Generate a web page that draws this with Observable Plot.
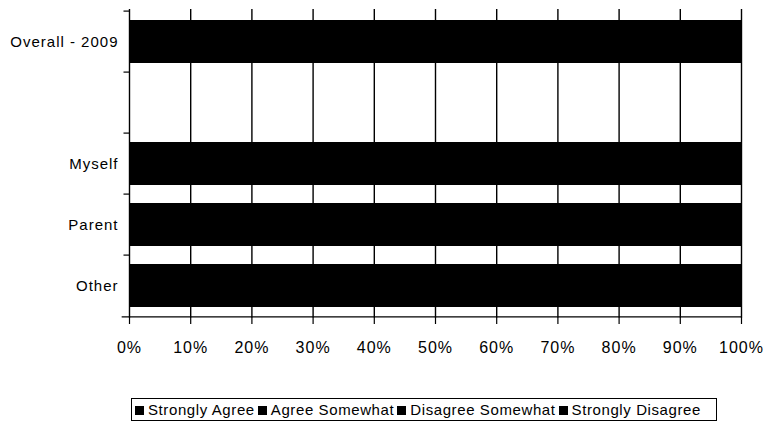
<!DOCTYPE html>
<html>
<head>
<meta charset="utf-8">
<script src="https://cdn.jsdelivr.net/npm/d3@7"></script>
<script src="https://cdn.jsdelivr.net/npm/@observablehq/plot@0.6"></script>
<style>
  html, body { margin: 0; padding: 0; background: #fff; }
  #wrap { position: relative; width: 769px; height: 428px; font-family: "Liberation Sans", Arial, sans-serif; }
  #chart svg, #chart svg text { font-family: "Liberation Sans", Arial, sans-serif !important; }
  #legend {
    position: absolute; left: 131px; top: 398px; width: 581px; height: 21px;
    border: 1px solid #000; box-sizing: content-box;
    font-size: 15px; letter-spacing: 0.6px; line-height: 21px; color: #000;
    white-space: nowrap; padding-left: 3px;
  }
  #legend .sw { display: inline-block; width: 9px; height: 9px; margin-right: 4px; vertical-align: 0px; }
  #legend .item { margin-right: 3px; }
</style>
</head>
<body>
<div id="wrap">
  <div id="chart"></div>
  <div id="legend"></div>
</div>
<script>
// Survey groups (the blank entry is a spacer row between the overall bar and the breakdown)
const groups = ["Overall - 2009", " ", "Myself", "Parent", "Other"];
const responses = ["Strongly Agree", "Agree Somewhat", "Disagree Somewhat", "Strongly Disagree"];
const responseColors = ["#000000", "#000000", "#000000", "#000000"];

// Share of respondents (%) per response, one array per group
const overall2009 = [52, 31, 11, 6];
const myself = [58, 28, 9, 5];
const parent = [49, 33, 12, 6];
const other = [45, 35, 13, 7];

const xTicks = [0, 0.1, 0.2, 0.3, 0.4, 0.5, 0.6, 0.7, 0.8, 0.9, 1];

const rows = [
  ["Overall - 2009", overall2009],
  ["Myself", myself],
  ["Parent", parent],
  ["Other", other]
].flatMap(([group, vals]) =>
  responses.map((response, i) => ({group, response, value: vals[i] / 100}))
);

const W = 769, H = 372;
const mTop = 9, mBottom = 54, mLeft = 129, mRight = 28;
const step = (H - mTop - mBottom) / groups.length;

const chart = Plot.plot({
  width: W,
  height: H,
  marginTop: mTop,
  marginBottom: mBottom,
  marginLeft: mLeft,
  marginRight: mRight,
  style: {color: "#000", background: "#fff"},
  x: {domain: [0, 1], axis: null},
  y: {domain: groups, padding: 0, axis: null},
  color: {domain: responses, range: responseColors},
  marks: [
    // vertical gridlines every 10%
    Plot.ruleX(xTicks, {stroke: "#000", strokeWidth: 1.4}),
    // stacked 100% bars
    Plot.barX(rows, Plot.stackX({
      x: "value", y: "group", fill: "response", stroke: "response", strokeWidth: 1,
      shapeRendering: "crispEdges", order: responses, insetTop: 9.5, insetBottom: 9.5
    })),
    // category ticks at band boundaries
    Plot.ruleY(groups, {y: d => d, dy: -step / 2, x1: -0.009, x2: 0, stroke: "#000", strokeWidth: 1.2, clip: false}),
    // bottom axis line
    Plot.ruleY(["Other"], {y: d => d, dy: step / 2, x1: -0.012, x2: 1, stroke: "#000", strokeWidth: 1.4}),
    Plot.axisY({
      tickSize: 0, tickPadding: 11, fontSize: 15, label: null,
      tickFormat: d => d, textAnchor: "end"
    }),
    Plot.axisX({
      ticks: xTicks, tickFormat: d3.format(".0%"), tickSize: 6, tickPadding: 17,
      fontSize: 16, stroke: "#000", strokeWidth: 1.2, label: null
    })
  ]
});

chart.querySelectorAll("text").forEach(t => t.style.letterSpacing = "1px");
document.getElementById("chart").appendChild(chart);

// legend row below the chart
const legend = document.getElementById("legend");
responses.forEach((r, i) => {
  const item = document.createElement("span");
  item.className = "item";
  const sw = document.createElement("span");
  sw.className = "sw";
  sw.style.background = responseColors[i];
  item.appendChild(sw);
  item.appendChild(document.createTextNode(r));
  legend.appendChild(item);
});
</script>
</body>
</html>
